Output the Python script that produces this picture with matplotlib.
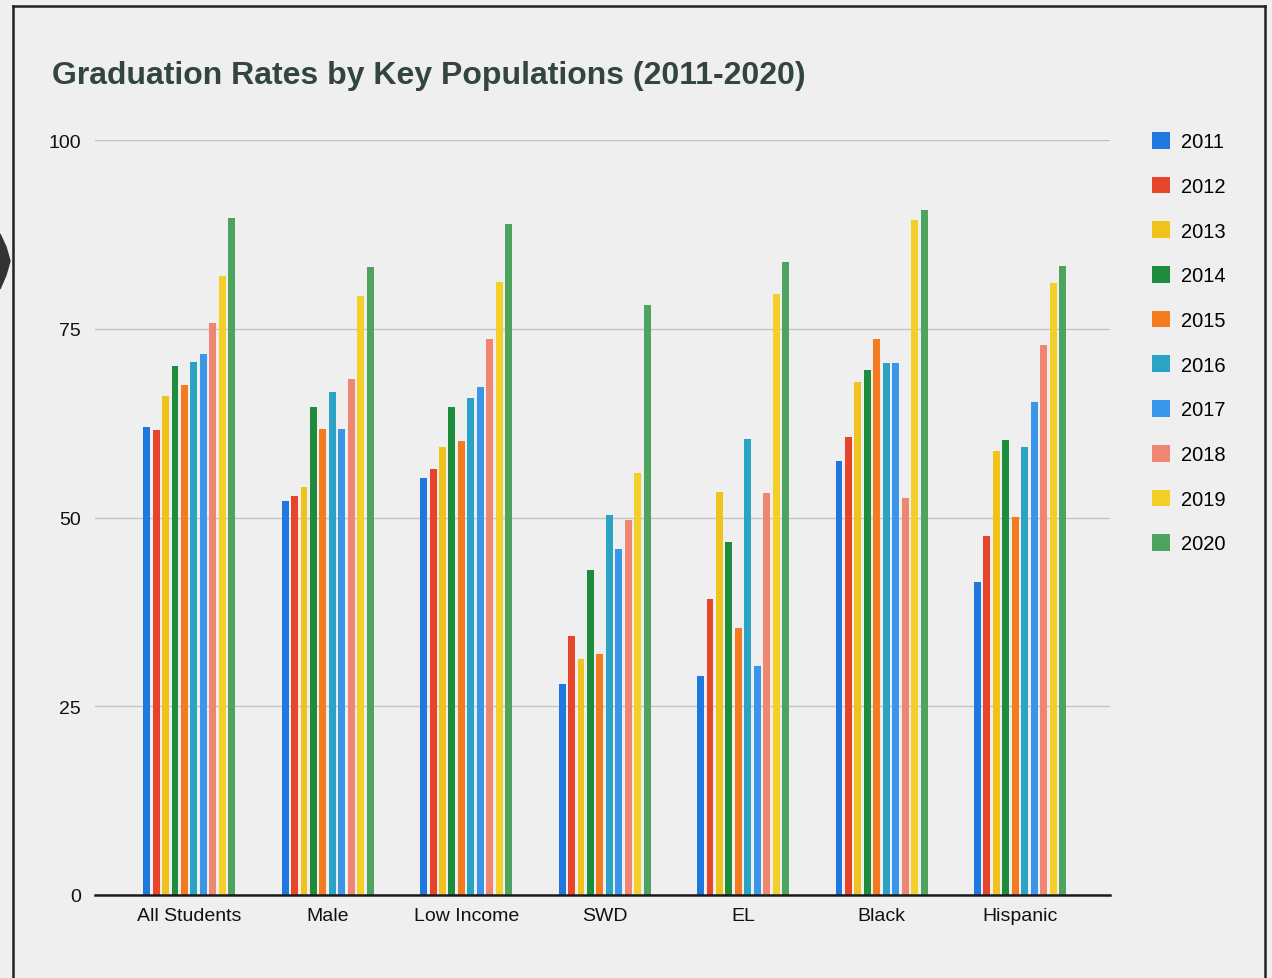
import numpy as np
import matplotlib
matplotlib.use("Agg")
import matplotlib.pyplot as plt
from matplotlib.lines import Line2D
from matplotlib.patches import Polygon

# groups on the x axis
groups = ["All Students", "Male", "Low Income", "SWD", "EL", "Black", "Hispanic"]
years = ["2011", "2012", "2013", "2014", "2015", "2016", "2017", "2018", "2019", "2020"]

# graduation rate per year, one value per group
rate_2011 = [62.0, 52.2, 55.3, 27.9, 29.0, 57.5, 41.5]
rate_2012 = [61.6, 52.8, 56.5, 34.3, 39.2, 60.7, 47.6]
rate_2013 = [66.1, 54.1, 59.4, 31.2, 53.4, 68.0, 58.8]
rate_2014 = [70.1, 64.6, 64.6, 43.1, 46.8, 69.6, 60.3]
rate_2015 = [67.6, 61.8, 60.1, 31.9, 35.4, 73.7, 50.1]
rate_2016 = [70.6, 66.7, 65.9, 50.3, 60.4, 70.5, 59.3]
rate_2017 = [71.7, 61.8, 67.3, 45.8, 30.3, 70.5, 65.3]
rate_2018 = [75.8, 68.3, 73.7, 49.7, 53.3, 52.6, 72.8]
rate_2019 = [82.0, 79.4, 81.2, 55.9, 79.6, 89.4, 81.1]
rate_2020 = [89.7, 83.2, 88.9, 78.2, 83.9, 90.7, 83.3]

rates = [rate_2011, rate_2012, rate_2013, rate_2014, rate_2015,
         rate_2016, rate_2017, rate_2018, rate_2019, rate_2020]

colors = ["#1f77e0", "#e8442b", "#f0c21c", "#1e8c3c", "#f47b20",
          "#2aa3c4", "#3a96ea", "#ef8672", "#f4cf2a", "#4ea45e"]

bg = "#efefef"
plt.rcParams["font.family"] = ["Liberation Sans", "DejaVu Sans"]

fig = plt.figure(figsize=(12.72, 9.79), dpi=100, facecolor=bg)
ax = fig.add_axes([0.0747, 0.0848, 0.798, 0.771], facecolor=bg)

x = np.arange(len(groups))
step = 0.0683
width = 0.05
for j in range(len(years)):
    ax.bar(x + (j - 4.5) * step, rates[j], width=width, color=colors[j], label=years[j], zorder=3)

ax.set_xlim(-0.68, 6.65)
ax.set_ylim(0, 100)
ax.set_yticks([0, 25, 50, 75, 100])
ax.set_xticks(x)
ax.set_xticklabels(groups)
ax.tick_params(axis="both", length=0, labelsize=14, colors="#111111")
ax.tick_params(axis="y", pad=10)
ax.tick_params(axis="x", pad=9)
ax.grid(axis="y", color="#c4c4c4", linewidth=1.0, zorder=0)
for s in ["top", "right", "left"]:
    ax.spines[s].set_visible(False)
ax.spines["bottom"].set_color("#1a1a1a")
ax.spines["bottom"].set_linewidth(1.8)
ax.spines["bottom"].set_zorder(4)

fig.text(52 / 1272, 1 - 76 / 979, "Graduation Rates by Key Populations (2011-2020)",
         fontsize=23, fontweight="bold", color="#33453f", va="center", ha="left")

leg = ax.legend(loc="upper left", bbox_to_anchor=(1144 / 1272, 1 - 125 / 979),
                bbox_transform=fig.transFigure, frameon=False, fontsize=14.5,
                handlelength=0.9, handleheight=0.9, handletextpad=0.55,
                labelspacing=1.26, borderaxespad=0)

# scanned page frame
fig.add_artist(Line2D([13 / 1272, 13 / 1272], [0, 1 - 7 / 979], color="#222222", linewidth=1.8))
fig.add_artist(Line2D([13 / 1272, 1265 / 1272], [1 - 7 / 979, 1 - 7 / 979], color="#222222", linewidth=1.8))
fig.add_artist(Line2D([1265 / 1272, 1265 / 1272], [0, 1 - 7 / 979], color="#222222", linewidth=1.8))
fig.add_artist(Polygon([[0, 1 - 235 / 979], [6 / 1272, 1 - 248 / 979], [10 / 1272, 1 - 262 / 979],
                        [6 / 1272, 1 - 276 / 979], [0, 1 - 290 / 979]],
                       closed=True, transform=fig.transFigure, color="#333333"))

fig.savefig("out.png", dpi=100, facecolor=bg)
